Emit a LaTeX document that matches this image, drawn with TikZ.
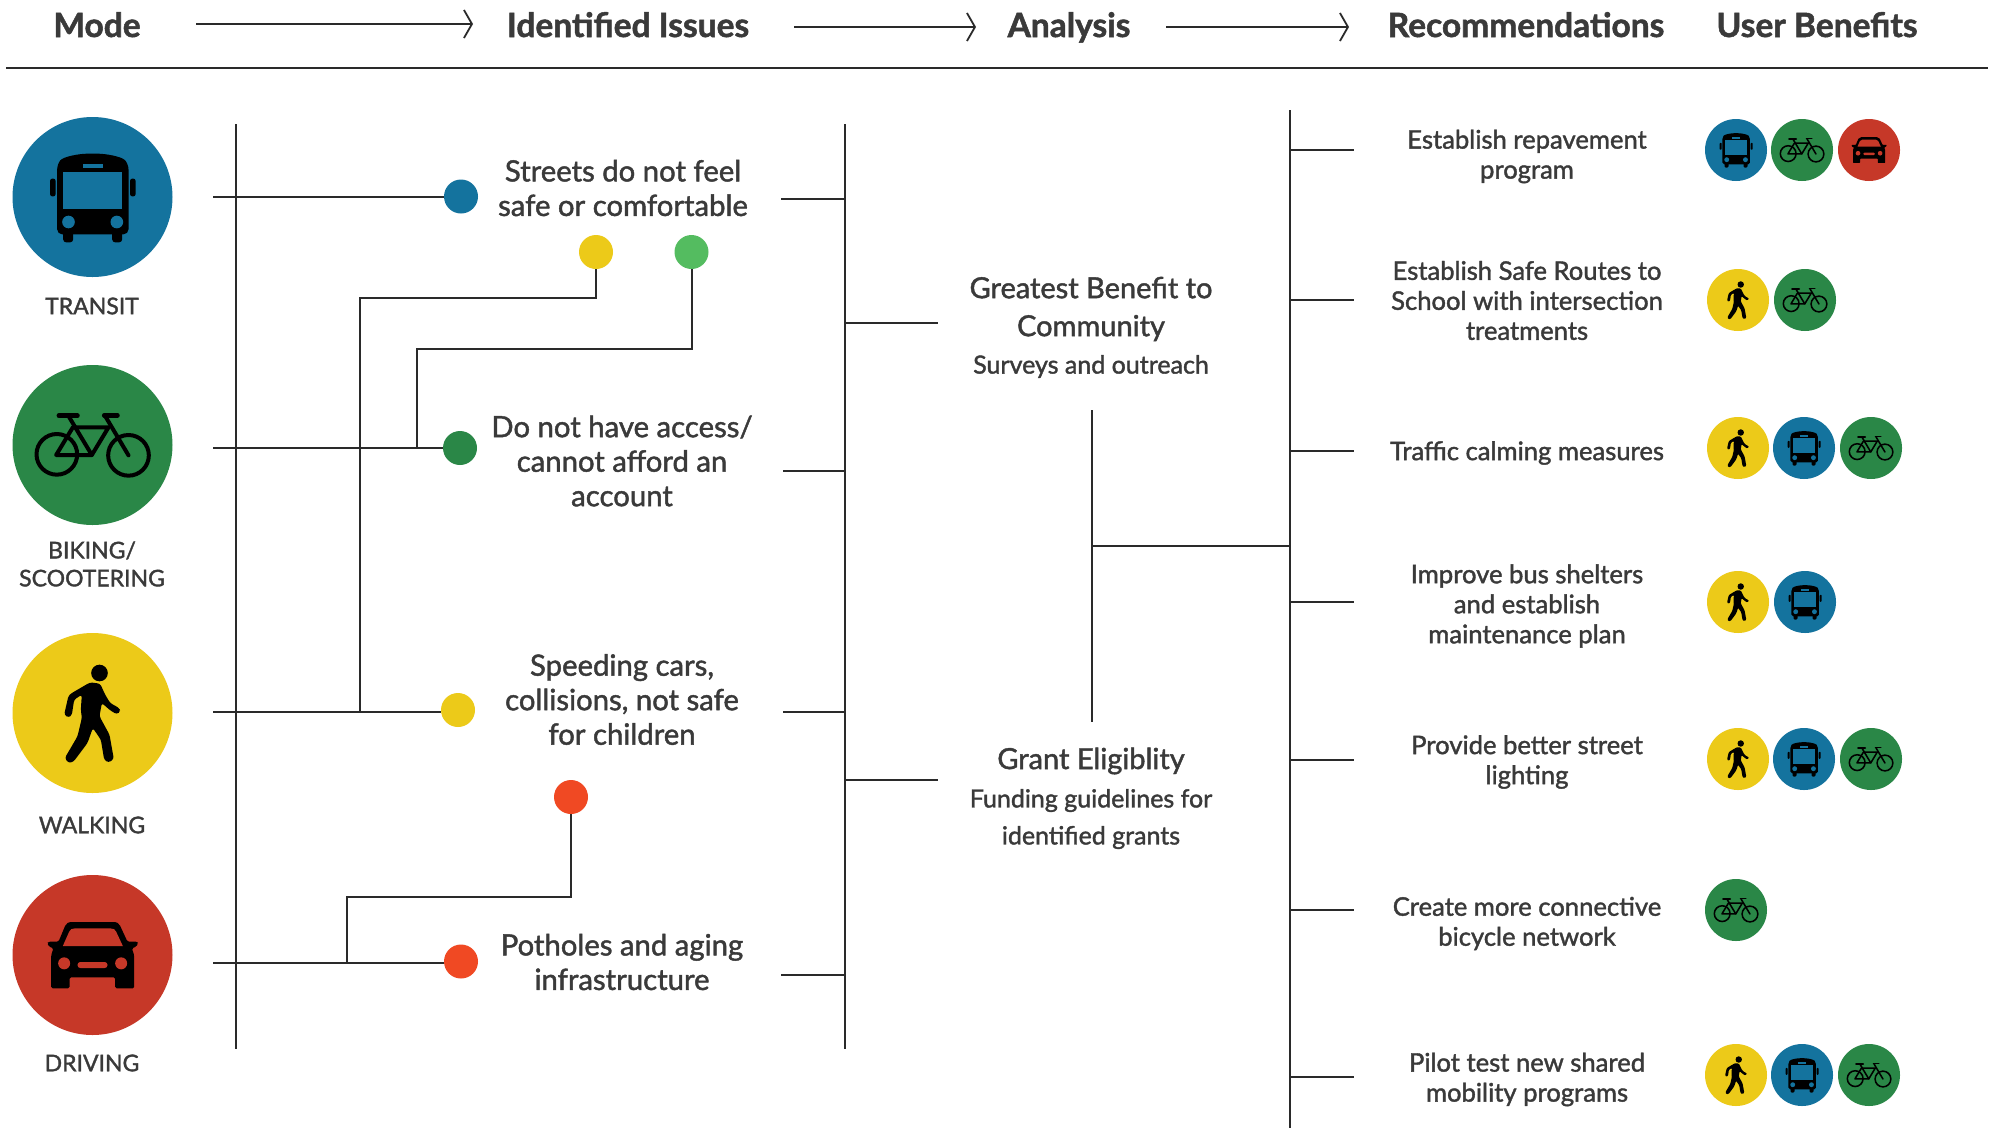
\documentclass[tikz,border=0pt]{standalone}
\usepackage{fontspec}
\setmainfont{Lato}[RawFeature={embolden=1.5}]
\usetikzlibrary{arrows.meta,calc}
\definecolor{cblue}{HTML}{14739E}
\definecolor{cgreen}{HTML}{2A8747}
\definecolor{cyellow}{HTML}{ECCA19}
\definecolor{cred}{HTML}{C63828}
\definecolor{corange}{HTML}{F04923}
\definecolor{clime}{HTML}{54BC60}
\definecolor{ctext}{HTML}{3A3A3A}
\definecolor{cline}{HTML}{2A2A2A}
\tikzset{
  x=1pt,y=-1pt,
  conn/.style={draw=cline,line width=2pt},
  head/.style={font=\fontsize{33.5}{38}\selectfont\bfseries,text=ctext,anchor=base},
  flow/.style={draw=cline,line width=1.8pt,-{Straight Barb[length=8pt,width=28pt,line width=1.8pt]}},
  issue/.style={font=\fontsize{29.3}{34.5}\selectfont,text=ctext,align=center,anchor=center},
  anahead/.style={font=\fontsize{29}{38}\selectfont,text=ctext,align=center,anchor=center},
  anasub/.style={font=\fontsize{25}{37}\selectfont,text=ctext,align=center,anchor=center},
  rec/.style={font=\fontsize{25.6}{30}\selectfont,text=ctext,align=center,anchor=center},
  modelab/.style={font=\fontsize{23}{28}\selectfont,text=ctext,align=center,anchor=center},
  dot/.style={circle,inner sep=0pt,minimum size=34pt}
}
% #1 x, #2 y, #3 scale
\newcommand{\busicon}[3]{%
 \begin{scope}[shift={(#1,#2)},scale=#3/3,shift={(-277,-320)}]
  \fill[cblue] (277,320) circle[radius=240];
  \fill[black,rounded corners=#3*5pt] (171,432) -- (171,222) .. controls (190,198) and (240,190) .. (277,190) .. controls (315,190) and (365,198) .. (385,222) -- (385,432) -- cycle;
  \fill[black,rounded corners=#3*3pt] (189,420) rectangle (219,456);
  \fill[black,rounded corners=#3*3pt] (336,420) rectangle (366,456);
  \fill[black,rounded corners=#3*2pt] (150,265) rectangle (166,318);
  \fill[black,rounded corners=#3*2pt] (390,265) rectangle (406,318);
  \fill[cblue] (189,246) rectangle (365,355);
  \fill[cblue] (247,220) rectangle (309,232);
  \fill[cblue] (205,395) circle[radius=19];
  \fill[cblue] (350,395) circle[radius=19];
 \end{scope}}
\newcommand{\bikeicon}[3]{%
 \begin{scope}[shift={(#1,#2)},scale=#3/3,shift={(-277,-285)}]
  \fill[cgreen] (277,285) circle[radius=240];
  \begin{scope}[draw=black,line width=#3*4pt,line cap=round,line join=round]
  \draw (170,313) circle[radius=61];
  \draw (385,316) circle[radius=61];
  \draw (168,315) -- (275,315) -- (325,232) -- (218,232) -- cycle;
  \draw (205,198) -- (275,315);
  \draw (315,198) -- (385,316);
  \end{scope}
  \draw[black,line width=#3*4.5pt,line cap=round] (176,197) -- (232,197);
  \draw[black,line width=#3*4.5pt,line cap=round] (312,196) -- (352,196);
 \end{scope}}
\newcommand{\walkicon}[3]{%
 \begin{scope}[shift={(#1,#2)},scale=#3/3,shift={(-277,-280)}]
  \fill[cyellow] (277,280) circle[radius=240];
  \fill[black] (298,160) circle[radius=25];
  \fill[black,rounded corners=#3*2.5pt] (270,188) -- (300,192) -- (315,225) -- (330,250) -- (357,265) -- (361,275) -- (350,284) -- (330,272) -- (305,250) -- (298,290) -- (328,345) -- (341,418) -- (325,429) -- (312,420) -- (302,360) -- (278,325) -- (262,370) -- (220,426) -- (205,430) -- (194,415) -- (232,350) -- (245,295) -- (242,270) -- (245,225) -- (222,240) -- (215,286) -- (205,294) -- (192,285) -- (205,228) -- (215,220) -- cycle;
 \end{scope}}
\newcommand{\caricon}[3]{%
 \begin{scope}[shift={(#1,#2)},scale=#3/3,shift={(-277,-255)}]
  \fill[cred] (277,255) circle[radius=240];
  \fill[black,rounded corners=#3*1.5pt] (153,355) -- (153,255) -- (160,235) -- (147,230) -- (141,220) -- (145,215) -- (175,215) -- (193,172) .. controls (198,160) and (205,156) .. (220,156) -- (335,156) .. controls (350,156) and (357,160) .. (362,172) -- (382,215) -- (412,215) -- (414,220) -- (408,230) -- (395,235) -- (402,255) -- (402,355) -- (345,355) -- (345,322) -- (208,322) -- (208,355) -- cycle;
  \fill[cred] (188,228) -- (207,185) .. controls (210,178) and (215,175) .. (225,175) -- (330,175) .. controls (340,175) and (345,178) .. (348,185) -- (368,228) -- cycle;
  \fill[cred] (192,280) circle[radius=18];
  \fill[cred] (363,280) circle[radius=18];
  \fill[cred,rounded corners=#3*2.8pt] (232,276) rectangle (322,294);
 \end{scope}}
\begin{document}
\begin{tikzpicture}
\useasboundingbox (0,0) rectangle (2007,1128);
\fill[white] (0,0) rectangle (2007,1128);
% header
\node[head] (hMode) at (97,37) {Mode};
\node[head] (hIss) at (628,37) {Identified Issues};
\node[head] (hAna) at (1069,37) {Analysis};
\node[head] (hRec) at (1526,37) {Recommendations};
\node[head] (hUser) at (1817,37) {User Benefits};
\coordinate (a1s) at (196,24); \coordinate (a1e) at (473,24);
\coordinate (a2s) at (794,27); \coordinate (a2e) at (976,27);
\coordinate (a3s) at (1166,27); \coordinate (a3e) at (1349,27);
\draw[flow] (a1s) -- (a1e);
\draw[flow] (a2s) -- (a2e);
\draw[flow] (a3s) -- (a3e);
\coordinate (ruleL) at (6,68); \coordinate (ruleR) at (1988,68);
\draw[conn] (ruleL) -- (ruleR);
% big icons
\busicon{92.5}{197}{1}
\bikeicon{92.5}{445}{1}
\walkicon{92.5}{713}{1}
\caricon{92.5}{955}{1}
\node[modelab] (lT) at (92,306) {TRANSIT};
\node[modelab] (lB) at (92,564) {BIKING/\\SCOOTERING};
\node[modelab] (lW) at (92,825) {WALKING};
\node[modelab] (lD) at (92,1063) {DRIVING};
% verticals
\coordinate (v1t) at (235.5,124); \coordinate (v1b) at (235.5,1049);
\coordinate (v2t) at (845,124); \coordinate (v2b) at (845,1049);
\coordinate (v3t) at (1289.5,110); \coordinate (v3b) at (1289.5,1128);
\draw[conn] (v1t) -- (v1b);
\draw[conn] (v2t) -- (v2b);
\draw[conn] (v3t) -- (v3b);
% dots
\node[dot,fill=cblue] (dB) at (461,196.5) {};
\node[dot,fill=cyellow] (dY1) at (596,252) {};
\node[dot,fill=clime] (dG1) at (691.5,252) {};
\node[dot,fill=cgreen] (dG2) at (460,448) {};
\node[dot,fill=cyellow] (dY2) at (458,710) {};
\node[dot,fill=corange] (dO1) at (571,797) {};
\node[dot,fill=corange] (dO2) at (461,961.5) {};
% mode -> dot
\coordinate (sT) at (213,197);
\coordinate (sB) at (213,448);
\coordinate (sW) at (213,711.5);
\coordinate (sD) at (213,963);
\draw[conn] (sT) -- (sT -| dB.west);
\draw[conn] (sB) -- (sB -| dG2.west);
\draw[conn] (sW) -- (sW -| dY2.west);
\draw[conn] (sD) -- (sD -| dO2.west);
\coordinate (eY) at (360,297.5);
\coordinate (eYb) at (360,711.5);
\draw[conn] (dY1.south) -- (eY -| dY1.south) -- (eY) -- (eYb);
\coordinate (eG) at (416.5,348.5);
\coordinate (eGb) at (416.5,448);
\draw[conn] (dG1.south) -- (eG -| dG1.south) -- (eG) -- (eGb);
\coordinate (eO) at (347,897);
\coordinate (eOb) at (347,963);
\draw[conn] (dO1.south) -- (eO -| dO1.south) -- (eO) -- (eOb);
% issues
\node[issue] (i1) at (623,188) {Streets do not feel\\safe or comfortable};
\node[issue] (i2) at (622,461) {Do not have access/\\cannot afford an\\account};
\node[issue] (i3) at (622,699.5) {Speeding cars,\\collisions, not safe\\for children};
\node[issue] (i4) at (622,962) {Potholes and aging\\infrastructure};
\foreach \n/\xx/\yy in {t1/781/199,t2/783/471,t3/783/712,t4/781/975}{
  \coordinate (\n s) at (\xx,\yy);
  \coordinate (\n e) at (845,\yy);
  \draw[conn] (\n s) -- (\n e);
}
% analysis
\node[anahead] (an1) at (1091,309) {Greatest Benefit to\\Community};
\node[anasub] (an1s) at (1091,366.5) {Surveys and outreach};
\node[anahead] (an2) at (1091,761) {Grant Eligiblity};
\node[anasub] (an2s) at (1091,819) {Funding guidelines for\\identified grants};
\foreach \n/\yy in {u1/323,u2/779.5}{
  \coordinate (\n s) at (845,\yy);
  \coordinate (\n e) at (938,\yy);
  \draw[conn] (\n s) -- (\n e);
}
\coordinate (wT) at (1092,410); \coordinate (wB) at (1092,722);
\coordinate (wM) at (1092,546); \coordinate (wR) at (1289,546);
\draw[conn] (wT) -- (wB);
\draw[conn] (wM) -- (wR);
% recommendations
\foreach \n/\yy in {r1/150,r2/300,r3/450.5,r4/602,r5/759.5,r6/910,r7/1076.5}{
  \coordinate (\n s) at (1289,\yy);
  \coordinate (\n e) at (1354,\yy);
  \draw[conn] (\n s) -- (\n e);
}
\node[rec] (R1) at (1527,156.5) {Establish repavement\\program};
\node[rec] (R2) at (1527,300.5) {Establish Safe Routes to\\School with intersection\\treatments};
\node[rec] (R3) at (1527,453) {Traffic calming measures};
\node[rec] (R4) at (1527,606) {Improve bus shelters\\and establish\\maintenance plan};
\node[rec] (R5) at (1527,762) {Provide better street\\lighting};
\node[rec] (R6) at (1527,923.5) {Create more connective\\bicycle network};
\node[rec] (R7) at (1527,1079.5) {Pilot test new shared\\mobility programs};
% small icons
\def\smsc{0.3875}
\busicon{1736}{150}{\smsc}\bikeicon{1802}{150}{\smsc}\caricon{1869}{150}{\smsc}
\walkicon{1738}{300}{\smsc}\bikeicon{1805}{300}{\smsc}
\walkicon{1738}{448}{\smsc}\busicon{1804}{448}{\smsc}\bikeicon{1871}{448}{\smsc}
\walkicon{1738}{602}{\smsc}\busicon{1805}{602}{\smsc}
\walkicon{1738}{759}{\smsc}\busicon{1804}{759}{\smsc}\bikeicon{1871}{759}{\smsc}
\bikeicon{1736}{910}{\smsc}
\walkicon{1736}{1075}{\smsc}\busicon{1802}{1075}{\smsc}\bikeicon{1869}{1075}{\smsc}
\end{tikzpicture}
\end{document}
